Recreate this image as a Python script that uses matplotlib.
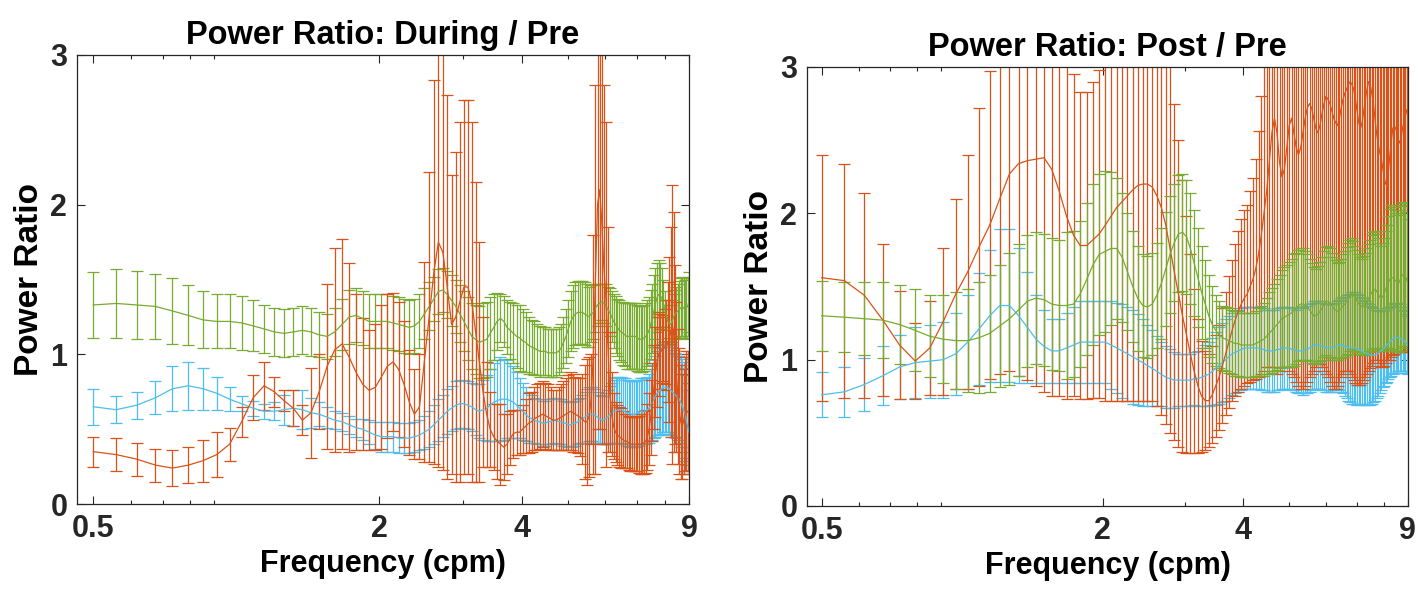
import numpy as np
import matplotlib
matplotlib.use('Agg')
import matplotlib.pyplot as plt
from matplotlib.ticker import LogLocator, NullFormatter

plt.rcParams['font.family'] = ['Liberation Sans', 'DejaVu Sans']
plt.rcParams['font.weight'] = 'bold'

# frequency bins (cpm), spacing 0.0586 cpm from 0.5 to 9
freq = np.round(0.5 + 0.0586 * np.arange(146), 3)

xticks = [0.5, 2, 4, 9]
yticks = [0, 1, 2, 3]

# ---- During / Pre ----
dp_orange = [0.35, 0.33, 0.30, 0.26, 0.24, 0.26, 0.29, 0.33, 0.40, 0.55, 0.71, 0.79, 0.75,
             0.69, 0.64, 0.56, 0.61, 0.75, 0.92, 1.03, 1.07, 0.98, 0.88, 0.80, 0.76, 0.78,
             0.85, 0.92, 0.95, 0.90, 0.80, 0.68, 0.60, 0.65, 0.95, 1.25,
             1.55, 1.75, 1.68, 1.45, 1.20, 1.25, 1.35, 1.45, 1.45, 1.35,
             1.15, 0.95, 0.75, 0.60, 0.50, 0.45, 0.42, 0.40, 0.38, 0.40,
             0.44, 0.47, 0.48, 0.48, 0.50, 0.52, 0.54, 0.55, 0.57, 0.58,
             0.59, 0.60, 0.59, 0.58, 0.57, 0.56, 0.56, 0.57, 0.58, 0.59,
             0.60, 0.61, 0.62, 0.61, 0.60, 0.59, 0.58, 0.57, 0.55, 0.55,
             0.58, 0.70, 1.00, 1.50, 2.00, 2.10, 1.90, 1.60, 1.40, 1.10,
             0.75, 0.60, 0.52, 0.48, 0.46, 0.45, 0.44, 0.43, 0.42, 0.42,
             0.41, 0.40, 0.40, 0.40, 0.40, 0.40, 0.40, 0.40, 0.40, 0.41,
             0.42, 0.45, 0.50, 0.58, 0.68, 0.78, 0.88, 0.95, 1.00, 1.02,
             1.03, 1.04, 1.05, 1.06, 1.08, 1.10, 1.15, 1.20, 1.15, 1.00,
             0.85, 0.72, 0.62, 0.55, 0.52, 0.55, 0.60, 0.62, 0.62, 0.60]
dp_orange_err = [0.10, 0.11, 0.11, 0.11, 0.12, 0.12, 0.14, 0.15, 0.11, 0.10, 0.15, 0.16, 0.10,
                 0.07, 0.12, 0.10, 0.30, 0.25, 0.55, 0.68, 0.70, 0.63, 0.52, 0.44, 0.40, 0.42,
                 0.48, 0.48, 0.46, 0.45, 0.42, 0.35, 0.30, 0.35, 0.67, 0.97,
                 1.28, 1.50, 1.45, 1.28, 1.00, 1.10, 1.20, 1.25, 1.25, 1.20,
                 1.00, 0.80, 0.50, 0.35, 0.25, 0.22, 0.25, 0.27, 0.22, 0.20,
                 0.18, 0.16, 0.15, 0.15, 0.16, 0.18, 0.20, 0.20, 0.21, 0.22,
                 0.22, 0.22, 0.22, 0.22, 0.21, 0.20, 0.20, 0.21, 0.22, 0.23,
                 0.24, 0.25, 0.26, 0.26, 0.25, 0.25, 0.26, 0.30, 0.38, 0.42,
                 0.40, 0.30, 0.80, 1.30, 1.50, 1.60, 1.50, 1.20, 1.15, 0.75,
                 0.40, 0.28, 0.22, 0.20, 0.20, 0.20, 0.20, 0.19, 0.18, 0.18,
                 0.18, 0.18, 0.18, 0.18, 0.18, 0.18, 0.19, 0.20, 0.20, 0.21,
                 0.21, 0.22, 0.24, 0.25, 0.26, 0.28, 0.30, 0.30, 0.28, 0.25,
                 0.22, 0.22, 0.25, 0.30, 0.40, 0.55, 0.70, 0.93, 0.80, 0.60,
                 0.50, 0.45, 0.42, 0.38, 0.35, 0.35, 0.38, 0.40, 0.40, 0.40]
dp_blue = [0.65, 0.63, 0.66, 0.71, 0.77, 0.79, 0.77, 0.74, 0.70, 0.67, 0.64, 0.62, 0.62,
           0.63, 0.64, 0.63, 0.61, 0.60, 0.58, 0.56, 0.55, 0.53, 0.51, 0.50, 0.48, 0.46,
           0.45, 0.45, 0.45, 0.44, 0.44, 0.44, 0.45, 0.46, 0.48, 0.50,
           0.53, 0.56, 0.59, 0.62, 0.64, 0.66, 0.67, 0.67, 0.66, 0.65,
           0.63, 0.62, 0.63, 0.64, 0.66, 0.68, 0.69, 0.70, 0.70, 0.70,
           0.69, 0.68, 0.66, 0.64, 0.62, 0.60, 0.58, 0.57, 0.56, 0.55,
           0.55, 0.54, 0.54, 0.55, 0.55, 0.56, 0.56, 0.55, 0.55, 0.54,
           0.54, 0.53, 0.53, 0.54, 0.54, 0.55, 0.56, 0.57, 0.58, 0.59,
           0.60, 0.60, 0.60, 0.59, 0.58, 0.57, 0.56, 0.56, 0.57, 0.58,
           0.60, 0.61, 0.62, 0.62, 0.63, 0.63, 0.63, 0.62, 0.62, 0.61,
           0.61, 0.60, 0.60, 0.60, 0.60, 0.61, 0.61, 0.62, 0.62, 0.62,
           0.62, 0.63, 0.64, 0.66, 0.68, 0.70, 0.72, 0.74, 0.75, 0.76,
           0.77, 0.78, 0.78, 0.78, 0.78, 0.77, 0.76, 0.75, 0.74, 0.73,
           0.72, 0.71, 0.70, 0.68, 0.66, 0.63, 0.60, 0.56, 0.52, 0.48]
dp_blue_err = [0.12, 0.09, 0.09, 0.11, 0.15, 0.16, 0.14, 0.11, 0.08, 0.05, 0.05, 0.05, 0.06,
               0.10, 0.12, 0.13, 0.10, 0.08, 0.07, 0.06, 0.06, 0.06, 0.06, 0.07, 0.08, 0.09,
               0.10, 0.10, 0.10, 0.10, 0.10, 0.10, 0.10, 0.10, 0.11, 0.12,
               0.13, 0.14, 0.14, 0.15, 0.15, 0.16, 0.16, 0.16, 0.16, 0.16,
               0.17, 0.18, 0.20, 0.22, 0.24, 0.26, 0.27, 0.28, 0.27, 0.26,
               0.25, 0.24, 0.22, 0.20, 0.19, 0.18, 0.17, 0.16, 0.15, 0.15,
               0.15, 0.15, 0.15, 0.15, 0.15, 0.15, 0.15, 0.15, 0.15, 0.15,
               0.15, 0.15, 0.15, 0.15, 0.15, 0.15, 0.15, 0.16, 0.17, 0.18,
               0.18, 0.18, 0.18, 0.18, 0.17, 0.16, 0.16, 0.16, 0.17, 0.18,
               0.19, 0.20, 0.21, 0.22, 0.22, 0.22, 0.22, 0.22, 0.22, 0.22,
               0.22, 0.22, 0.22, 0.22, 0.22, 0.22, 0.22, 0.22, 0.22, 0.22,
               0.22, 0.22, 0.23, 0.24, 0.25, 0.26, 0.27, 0.28, 0.29, 0.30,
               0.30, 0.30, 0.30, 0.30, 0.30, 0.30, 0.30, 0.30, 0.29, 0.28,
               0.28, 0.28, 0.29, 0.30, 0.31, 0.32, 0.31, 0.30, 0.29, 0.28]
dp_green = [1.33, 1.34, 1.33, 1.32, 1.29, 1.26, 1.23, 1.22, 1.22, 1.21, 1.19, 1.17, 1.15,
            1.14, 1.15, 1.16, 1.15, 1.13, 1.12, 1.15, 1.20, 1.25, 1.26, 1.24, 1.22, 1.22,
            1.22, 1.22, 1.21, 1.20, 1.19, 1.18, 1.19, 1.22, 1.27, 1.32,
            1.37, 1.42, 1.43, 1.40, 1.36, 1.32, 1.27, 1.22, 1.17, 1.12,
            1.10, 1.08, 1.09, 1.10, 1.14, 1.18, 1.22, 1.24, 1.22, 1.18,
            1.16, 1.14, 1.12, 1.11, 1.09, 1.08, 1.06, 1.05, 1.04, 1.03,
            1.02, 1.02, 1.02, 1.01, 1.01, 1.01, 1.01, 1.02, 1.04, 1.08,
            1.12, 1.17, 1.22, 1.25, 1.27, 1.28, 1.28, 1.28, 1.27, 1.26,
            1.25, 1.27, 1.28, 1.31, 1.33, 1.34, 1.35, 1.34, 1.33, 1.30,
            1.28, 1.25, 1.22, 1.20, 1.18, 1.16, 1.15, 1.14, 1.13, 1.12,
            1.12, 1.12, 1.12, 1.12, 1.12, 1.11, 1.10, 1.10, 1.10, 1.11,
            1.12, 1.14, 1.16, 1.20, 1.24, 1.29, 1.34, 1.38, 1.40, 1.39,
            1.38, 1.34, 1.30, 1.26, 1.22, 1.21, 1.20, 1.22, 1.25, 1.27,
            1.28, 1.29, 1.30, 1.31, 1.32, 1.31, 1.30, 1.31, 1.32, 1.35]
dp_green_err = [0.22, 0.23, 0.23, 0.22, 0.22, 0.20, 0.19, 0.18, 0.18, 0.18, 0.17, 0.16, 0.16,
                0.16, 0.16, 0.16, 0.16, 0.15, 0.15, 0.16, 0.17, 0.18, 0.18, 0.18, 0.18, 0.18,
                0.18, 0.18, 0.18, 0.18, 0.18, 0.18, 0.18, 0.18, 0.17, 0.16,
                0.15, 0.15, 0.15, 0.16, 0.17, 0.18, 0.19, 0.20, 0.21, 0.22,
                0.23, 0.24, 0.25, 0.25, 0.24, 0.22, 0.19, 0.16, 0.17, 0.18,
                0.19, 0.20, 0.21, 0.22, 0.21, 0.20, 0.19, 0.18, 0.18, 0.17,
                0.17, 0.16, 0.16, 0.16, 0.16, 0.16, 0.16, 0.16, 0.16, 0.17,
                0.18, 0.19, 0.20, 0.21, 0.21, 0.21, 0.21, 0.21, 0.21, 0.21,
                0.20, 0.19, 0.18, 0.16, 0.14, 0.13, 0.12, 0.13, 0.14, 0.15,
                0.16, 0.17, 0.18, 0.19, 0.19, 0.20, 0.20, 0.21, 0.21, 0.22,
                0.22, 0.22, 0.22, 0.22, 0.22, 0.22, 0.22, 0.22, 0.22, 0.22,
                0.22, 0.22, 0.22, 0.23, 0.23, 0.24, 0.24, 0.23, 0.23, 0.22,
                0.20, 0.16, 0.12, 0.10, 0.11, 0.12, 0.13, 0.14, 0.15, 0.16,
                0.17, 0.18, 0.19, 0.20, 0.20, 0.20, 0.20, 0.20, 0.20, 0.20]

# ---- Post / Pre ----
pp_orange = [1.56, 1.54, 1.44, 1.27, 1.10, 0.99, 1.08, 1.26, 1.45, 1.60, 1.77, 1.92, 2.10,
             2.27, 2.34, 2.36, 2.37, 2.38, 2.30, 2.15, 1.98, 1.85, 1.78, 1.78, 1.82, 1.86,
             1.92, 1.98, 2.04, 2.08, 2.12, 2.16, 2.19, 2.20, 2.20, 2.18,
             2.12, 2.04, 1.92, 1.76, 1.60, 1.45, 1.30, 1.17, 1.04, 0.92,
             0.82, 0.75, 0.72, 0.72, 0.76, 0.82, 0.88, 0.96, 1.04, 1.12,
             1.20, 1.27, 1.33, 1.38, 1.42, 1.45, 1.50, 1.55, 1.62, 1.72,
             1.85, 2.00, 2.15, 2.35, 2.55, 2.65, 2.55, 2.35, 2.25, 2.30,
             2.45, 2.60, 2.65, 2.55, 2.45, 2.40, 2.45, 2.55, 2.65, 2.72,
             2.75, 2.72, 2.65, 2.58, 2.55, 2.60, 2.68, 2.75, 2.80, 2.78,
             2.75, 2.70, 2.65, 2.62, 2.60, 2.65, 2.72, 2.78, 2.82, 2.85,
             2.88, 2.90, 2.88, 2.85, 2.78, 2.70, 2.62, 2.58, 2.62, 2.70,
             2.78, 2.85, 2.90, 2.88, 2.82, 2.75, 2.65, 2.55, 2.48, 2.42,
             2.38, 2.32, 2.25, 2.20, 2.22, 2.30, 2.40, 2.50, 2.58, 2.60,
             2.58, 2.55, 2.50, 2.48, 2.52, 2.58, 2.62, 2.66, 2.70, 2.72]
pp_orange_err = [0.84, 0.80, 0.70, 0.52, 0.37, 0.26, 0.32, 0.50, 0.65, 0.80, 0.95, 1.05, 1.20,
                 1.35, 1.45, 1.50, 1.55, 1.60, 1.55, 1.40, 1.25, 1.10, 1.05, 1.05, 1.08, 1.12,
                 1.20, 1.26, 1.32, 1.36, 1.40, 1.44, 1.47, 1.48, 1.48, 1.46,
                 1.44, 1.42, 1.36, 1.26, 1.15, 1.05, 0.93, 0.81, 0.68, 0.56,
                 0.46, 0.38, 0.34, 0.32, 0.33, 0.35, 0.36, 0.39, 0.42, 0.45,
                 0.48, 0.52, 0.55, 0.58, 0.60, 0.61, 0.65, 0.69, 0.75, 0.84,
                 0.95, 1.08, 1.20, 1.40, 1.60, 1.73, 1.65, 1.43, 1.30, 1.35,
                 1.50, 1.68, 1.75, 1.67, 1.60, 1.58, 1.65, 1.75, 1.83, 1.87,
                 1.87, 1.82, 1.73, 1.63, 1.58, 1.63, 1.73, 1.83, 1.90, 1.90,
                 1.90, 1.88, 1.85, 1.82, 1.78, 1.80, 1.84, 1.88, 1.90, 1.93,
                 1.96, 2.00, 2.00, 1.99, 1.94, 1.87, 1.79, 1.75, 1.78, 1.84,
                 1.90, 1.95, 1.98, 1.94, 1.86, 1.77, 1.65, 1.55, 1.50, 1.46,
                 1.43, 1.37, 1.29, 1.22, 1.22, 1.30, 1.40, 1.48, 1.55, 1.56,
                 1.53, 1.50, 1.44, 1.42, 1.46, 1.53, 1.57, 1.60, 1.64, 1.66]
pp_blue = [0.76, 0.78, 0.83, 0.89, 0.95, 0.98, 0.99, 1.00, 1.04, 1.12, 1.21, 1.30, 1.37,
           1.37, 1.30, 1.22, 1.14, 1.09, 1.06, 1.06, 1.08, 1.10, 1.12, 1.12, 1.12, 1.12,
           1.12, 1.10, 1.08, 1.06, 1.04, 1.02, 1.00, 0.98, 0.96, 0.94,
           0.92, 0.90, 0.88, 0.87, 0.86, 0.86, 0.86, 0.86, 0.86, 0.87,
           0.87, 0.88, 0.89, 0.90, 0.92, 0.94, 0.96, 0.98, 1.00, 1.02,
           1.04, 1.05, 1.06, 1.07, 1.08, 1.08, 1.08, 1.08, 1.08, 1.08,
           1.07, 1.07, 1.06, 1.06, 1.06, 1.06, 1.07, 1.07, 1.08, 1.08,
           1.08, 1.08, 1.07, 1.07, 1.06, 1.06, 1.06, 1.06, 1.07, 1.07,
           1.08, 1.09, 1.10, 1.10, 1.10, 1.10, 1.09, 1.09, 1.08, 1.08,
           1.08, 1.08, 1.09, 1.09, 1.10, 1.10, 1.10, 1.10, 1.09, 1.09,
           1.08, 1.08, 1.08, 1.08, 1.08, 1.07, 1.07, 1.06, 1.06, 1.05,
           1.05, 1.04, 1.04, 1.03, 1.03, 1.03, 1.03, 1.04, 1.04, 1.05,
           1.06, 1.07, 1.08, 1.09, 1.10, 1.11, 1.12, 1.13, 1.14, 1.15,
           1.15, 1.15, 1.15, 1.15, 1.14, 1.14, 1.13, 1.12, 1.11, 1.10]
pp_blue_err = [0.155, 0.17, 0.18, 0.20, 0.22, 0.24, 0.25, 0.26, 0.28, 0.32, 0.38, 0.45, 0.52,
               0.52, 0.46, 0.38, 0.30, 0.25, 0.22, 0.22, 0.24, 0.26, 0.28, 0.28, 0.28, 0.28,
               0.28, 0.30, 0.31, 0.32, 0.32, 0.32, 0.31, 0.30, 0.28, 0.26,
               0.24, 0.22, 0.21, 0.20, 0.19, 0.18, 0.18, 0.18, 0.18, 0.18,
               0.19, 0.20, 0.21, 0.22, 0.23, 0.25, 0.26, 0.27, 0.28, 0.28,
               0.28, 0.28, 0.28, 0.28, 0.28, 0.28, 0.28, 0.28, 0.28, 0.28,
               0.28, 0.28, 0.28, 0.28, 0.28, 0.28, 0.28, 0.28, 0.28, 0.28,
               0.28, 0.28, 0.28, 0.28, 0.28, 0.29, 0.29, 0.30, 0.30, 0.30,
               0.30, 0.30, 0.30, 0.30, 0.30, 0.30, 0.30, 0.30, 0.30, 0.30,
               0.30, 0.30, 0.30, 0.30, 0.30, 0.31, 0.32, 0.33, 0.34, 0.35,
               0.36, 0.37, 0.38, 0.38, 0.38, 0.38, 0.37, 0.37, 0.36, 0.36,
               0.35, 0.35, 0.34, 0.34, 0.33, 0.32, 0.31, 0.30, 0.29, 0.28,
               0.27, 0.26, 0.26, 0.25, 0.25, 0.24, 0.24, 0.24, 0.24, 0.24,
               0.24, 0.24, 0.23, 0.23, 0.22, 0.22, 0.21, 0.21, 0.20, 0.20]
pp_green = [1.30, 1.29, 1.28, 1.27, 1.24, 1.20, 1.16, 1.14, 1.13, 1.13, 1.15, 1.18, 1.23,
            1.28, 1.34, 1.40, 1.42, 1.41, 1.38, 1.37, 1.37, 1.38, 1.45, 1.55, 1.65, 1.72,
            1.74, 1.76, 1.76, 1.70, 1.60, 1.50, 1.42, 1.37, 1.36, 1.38,
            1.44, 1.52, 1.62, 1.72, 1.80, 1.86, 1.87, 1.84, 1.76, 1.66,
            1.56, 1.46, 1.38, 1.30, 1.24, 1.20, 1.17, 1.15, 1.14, 1.13,
            1.12, 1.11, 1.11, 1.10, 1.10, 1.10, 1.10, 1.10, 1.11, 1.12,
            1.13, 1.14, 1.16, 1.18, 1.20, 1.22, 1.24, 1.26, 1.28, 1.29,
            1.30, 1.31, 1.32, 1.34, 1.35, 1.37, 1.38, 1.38, 1.37, 1.36,
            1.34, 1.32, 1.30, 1.30, 1.31, 1.33, 1.35, 1.38, 1.40, 1.40,
            1.39, 1.37, 1.35, 1.34, 1.33, 1.34, 1.35, 1.37, 1.38, 1.40,
            1.42, 1.44, 1.45, 1.44, 1.42, 1.40, 1.38, 1.37, 1.36, 1.37,
            1.38, 1.40, 1.42, 1.44, 1.46, 1.47, 1.48, 1.47, 1.45, 1.43,
            1.42, 1.43, 1.45, 1.48, 1.50, 1.53, 1.55, 1.56, 1.56, 1.55,
            1.54, 1.53, 1.52, 1.54, 1.56, 1.58, 1.58, 1.57, 1.55, 1.52]
pp_green_err = [0.24, 0.24, 0.25, 0.26, 0.27, 0.28, 0.28, 0.30, 0.33, 0.35, 0.38, 0.40, 0.42,
                0.45, 0.45, 0.45, 0.45, 0.45, 0.45, 0.45, 0.50, 0.50, 0.50, 0.52, 0.55, 0.55,
                0.55, 0.52, 0.48, 0.44, 0.40, 0.38, 0.36, 0.35, 0.35, 0.35,
                0.36, 0.38, 0.39, 0.40, 0.40, 0.40, 0.40, 0.39, 0.38, 0.36,
                0.34, 0.32, 0.30, 0.28, 0.26, 0.24, 0.23, 0.22, 0.22, 0.22,
                0.22, 0.22, 0.22, 0.22, 0.22, 0.22, 0.22, 0.22, 0.22, 0.23,
                0.24, 0.25, 0.26, 0.28, 0.29, 0.30, 0.31, 0.32, 0.33, 0.34,
                0.35, 0.36, 0.37, 0.38, 0.38, 0.38, 0.38, 0.38, 0.37, 0.36,
                0.35, 0.34, 0.33, 0.32, 0.33, 0.34, 0.35, 0.36, 0.37, 0.38,
                0.37, 0.36, 0.35, 0.34, 0.33, 0.33, 0.34, 0.35, 0.36, 0.37,
                0.38, 0.38, 0.38, 0.37, 0.36, 0.35, 0.34, 0.33, 0.33, 0.34,
                0.35, 0.36, 0.37, 0.38, 0.39, 0.40, 0.40, 0.39, 0.38, 0.37,
                0.36, 0.37, 0.38, 0.40, 0.42, 0.45, 0.48, 0.50, 0.50, 0.49,
                0.48, 0.47, 0.47, 0.48, 0.50, 0.50, 0.49, 0.48, 0.46, 0.44]

c_orange = '#D95319'
c_blue = '#4DBEEE'
c_green = '#77AC30'

fig = plt.figure(figsize=(14.18, 5.95), dpi=100)
ax1 = fig.add_axes([0.0543, 0.1529, 0.4316, 0.7547])
ax2 = fig.add_axes([0.5691, 0.1496, 0.4238, 0.7378])

panels = [
    (ax1, 'Power Ratio: During / Pre', 0.462,
     [(dp_blue, dp_blue_err, c_blue), (dp_green, dp_green_err, c_green),
      (dp_orange, dp_orange_err, c_orange)]),
    (ax2, 'Power Ratio: Post / Pre', 0.465,
     [(pp_blue, pp_blue_err, c_blue), (pp_orange, pp_orange_err, c_orange),
      (pp_green, pp_green_err, c_green)]),
]

for ax, title, xmin, series in panels:
    for m, e, c in series:
        ax.errorbar(freq, m, yerr=e, color=c, lw=0.9, elinewidth=0.9,
                    capsize=4, capthick=0.9)
    ax.set_xscale('log')
    ax.set_xlim(xmin, 9.0)
    ax.set_ylim(0, 3)
    ax.set_xticks(xticks)
    ax.set_xticklabels([str(t) for t in xticks])
    ax.xaxis.set_minor_locator(LogLocator(base=10, subs=range(2, 10)))
    ax.xaxis.set_minor_formatter(NullFormatter())
    ax.set_yticks(yticks)
    ax.tick_params(which='both', direction='in', top=True, right=True,
                   colors='#262626', labelsize=22, width=0.8)
    ax.tick_params(which='major', length=6, pad=7)
    ax.tick_params(which='minor', length=3)
    for s in ax.spines.values():
        s.set_linewidth(0.9)
        s.set_color('#262626')
    ax.set_title(title, fontsize=23.5, fontweight='bold', pad=8)
    ax.set_xlabel('Frequency (cpm)', fontsize=22, fontweight='bold')
    ax.set_ylabel('Power Ratio', fontsize=24, fontweight='bold')

fig.savefig('out.png', dpi=100)
